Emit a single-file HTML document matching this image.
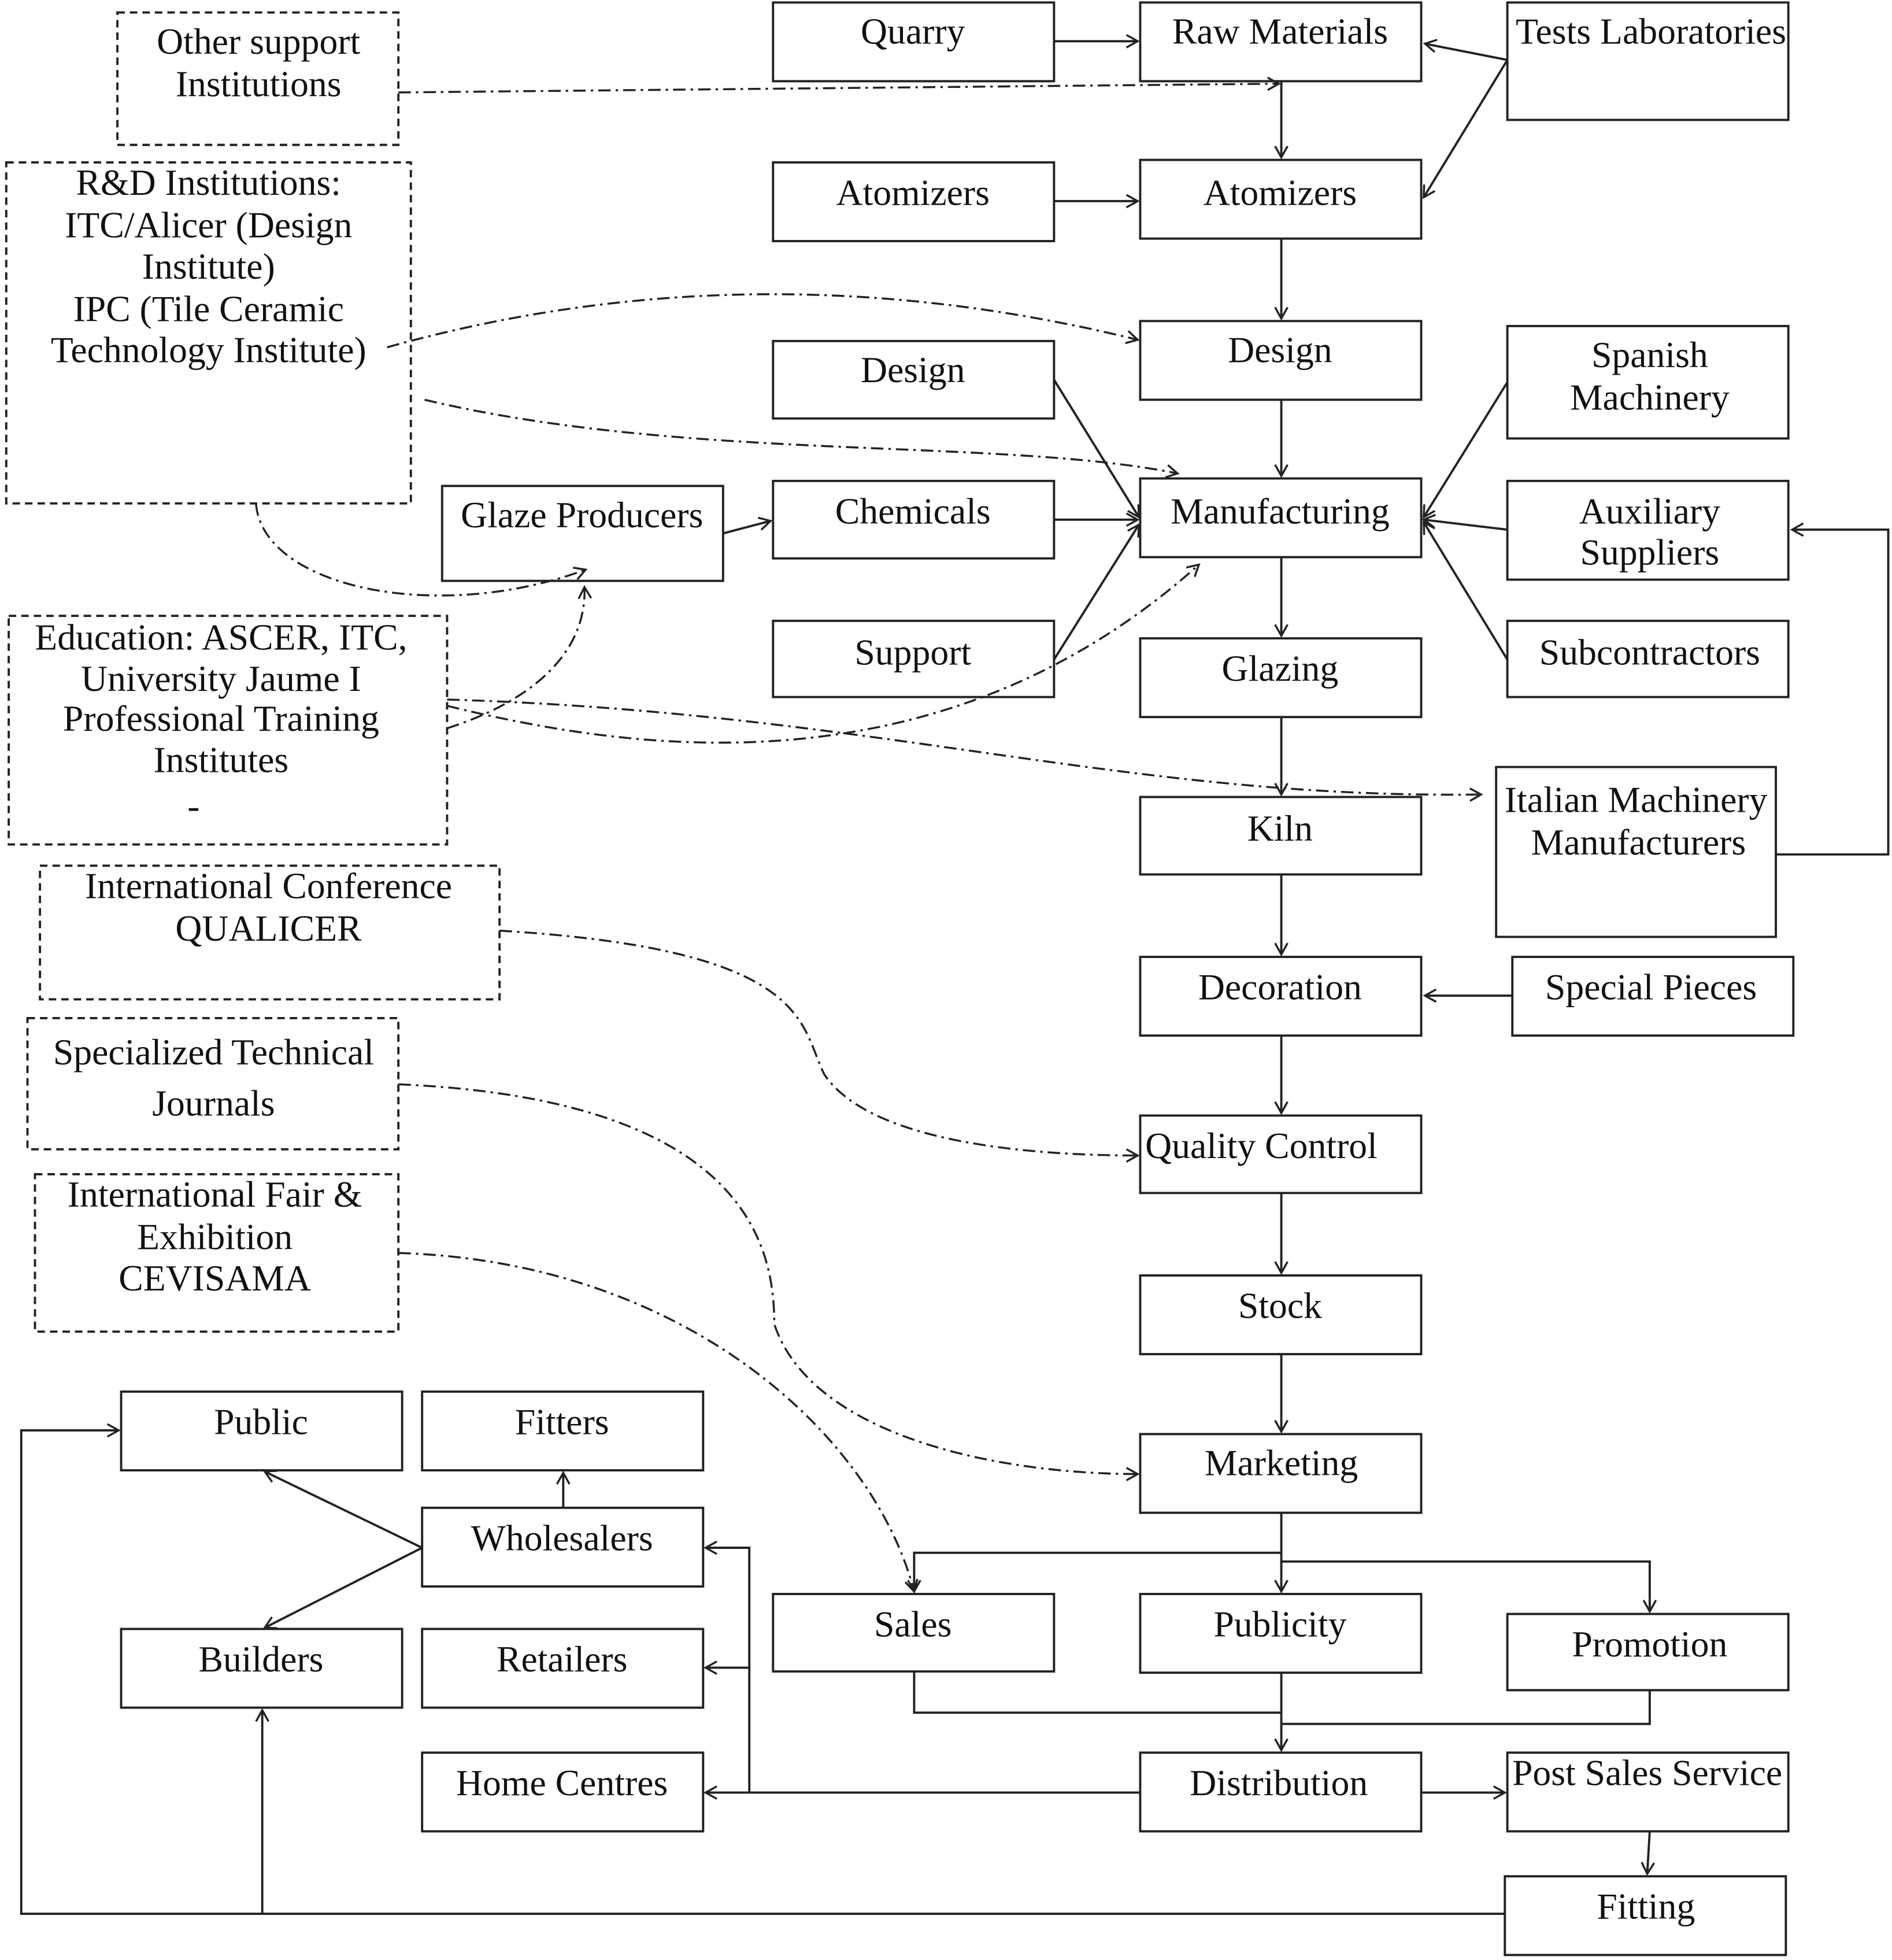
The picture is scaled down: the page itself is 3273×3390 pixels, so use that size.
<!DOCTYPE html>
<html><head><meta charset="utf-8"><style>
html,body{margin:0;padding:0;background:#fff;}
svg{display:block;}
text{font-family:"Liberation Serif",serif;font-size:29.5px;fill:#111;text-anchor:middle;}
</style></head><body>
<svg width="3273" height="3390" viewBox="0 0 1515 1569" preserveAspectRatio="none" xmlns="http://www.w3.org/2000/svg">
<defs>
<marker id="a" markerWidth="12" markerHeight="12" refX="10" refY="6" orient="auto" markerUnits="userSpaceOnUse">
<path d="M1,1 L10,6 L1,11" fill="none" stroke="#222" stroke-width="1.6"/>
</marker>
</defs>
<g fill="none" stroke="#222" stroke-width="1.8">
<rect x="619" y="2" width="225" height="63"/>
<rect x="913" y="2" width="225" height="63"/>
<rect x="1207" y="2" width="225" height="94"/>
<rect x="619" y="130" width="225" height="63"/>
<rect x="913" y="128" width="225" height="63"/>
<rect x="913" y="257" width="225" height="63"/>
<rect x="619" y="273" width="225" height="62"/>
<rect x="1207" y="261" width="225" height="90"/>
<rect x="354" y="389" width="225" height="76"/>
<rect x="619" y="385" width="225" height="62"/>
<rect x="913" y="383" width="225" height="63"/>
<rect x="1207" y="385" width="225" height="79"/>
<rect x="619" y="497" width="225" height="61"/>
<rect x="913" y="511" width="225" height="63"/>
<rect x="1207" y="497" width="225" height="61"/>
<rect x="1198" y="614" width="224" height="136"/>
<rect x="913" y="638" width="225" height="62"/>
<rect x="913" y="766" width="225" height="63"/>
<rect x="1211" y="766" width="225" height="63"/>
<rect x="913" y="893" width="225" height="62"/>
<rect x="913" y="1021" width="225" height="63"/>
<rect x="97" y="1114" width="225" height="63"/>
<rect x="338" y="1114" width="225" height="63"/>
<rect x="913" y="1148" width="225" height="63"/>
<rect x="338" y="1207" width="225" height="63"/>
<rect x="619" y="1276" width="225" height="62"/>
<rect x="913" y="1276" width="225" height="63"/>
<rect x="1207" y="1292" width="225" height="61"/>
<rect x="97" y="1304" width="225" height="63"/>
<rect x="338" y="1304" width="225" height="63"/>
<rect x="338" y="1403" width="225" height="63"/>
<rect x="913" y="1403" width="225" height="63"/>
<rect x="1207" y="1403" width="225" height="63"/>
<rect x="1205" y="1502" width="225" height="63"/>
</g>
<g fill="none" stroke="#222" stroke-width="1.8" stroke-dasharray="6 4">
<rect x="94" y="10" width="225" height="106"/>
<rect x="5" y="130" width="324" height="273"/>
<rect x="7" y="493" width="351" height="183"/>
<rect x="32" y="693" width="368" height="107"/>
<rect x="22" y="815" width="297" height="105"/>
<rect x="28" y="940" width="291" height="126"/>
</g>
<g fill="none" stroke="#222" stroke-width="1.8">
<line x1="844" y1="33" x2="911" y2="33" marker-end="url(#a)"/>
<line x1="1026" y1="65" x2="1026" y2="126" marker-end="url(#a)"/>
<line x1="1207" y1="48" x2="1141" y2="35" marker-end="url(#a)"/>
<line x1="1207" y1="48" x2="1140" y2="158" marker-end="url(#a)"/>
<line x1="844" y1="161" x2="911" y2="161" marker-end="url(#a)"/>
<line x1="1026" y1="191" x2="1026" y2="255" marker-end="url(#a)"/>
<line x1="1026" y1="320" x2="1026" y2="381" marker-end="url(#a)"/>
<line x1="844" y1="304" x2="912" y2="414" marker-end="url(#a)"/>
<line x1="844" y1="416" x2="911" y2="416" marker-end="url(#a)"/>
<line x1="844" y1="528" x2="912" y2="420" marker-end="url(#a)"/>
<line x1="1207" y1="306" x2="1140" y2="414" marker-end="url(#a)"/>
<line x1="1207" y1="424" x2="1140" y2="416" marker-end="url(#a)"/>
<line x1="1207" y1="528" x2="1140" y2="418" marker-end="url(#a)"/>
<line x1="579" y1="427" x2="617" y2="417" marker-end="url(#a)"/>
<line x1="1026" y1="446" x2="1026" y2="509" marker-end="url(#a)"/>
<line x1="1026" y1="574" x2="1026" y2="636" marker-end="url(#a)"/>
<line x1="1026" y1="700" x2="1026" y2="764" marker-end="url(#a)"/>
<line x1="1026" y1="829" x2="1026" y2="891" marker-end="url(#a)"/>
<line x1="1026" y1="955" x2="1026" y2="1019" marker-end="url(#a)"/>
<line x1="1026" y1="1084" x2="1026" y2="1146" marker-end="url(#a)"/>
<line x1="1211" y1="797" x2="1141" y2="797" marker-end="url(#a)"/>
<polyline points="1422,684 1512,684 1512,424 1435,424" marker-end="url(#a)"/>
<polyline points="1026,1243 732,1243 732,1274" marker-end="url(#a)"/>
<line x1="1026" y1="1211" x2="1026" y2="1274" marker-end="url(#a)"/>
<polyline points="1026,1250 1321,1250 1321,1290" marker-end="url(#a)"/>
<polyline points="732,1338 732,1371 1026,1371"/>
<line x1="1026" y1="1339" x2="1026" y2="1401" marker-end="url(#a)"/>
<polyline points="1321,1353 1321,1380 1026,1380"/>
<line x1="913" y1="1435" x2="565" y2="1435" marker-end="url(#a)"/>
<polyline points="600,1435 600,1239 565,1239" marker-end="url(#a)"/>
<line x1="600" y1="1335" x2="565" y2="1335" marker-end="url(#a)"/>
<line x1="1138" y1="1435" x2="1205" y2="1435" marker-end="url(#a)"/>
<line x1="1321" y1="1466" x2="1319" y2="1500" marker-end="url(#a)"/>
<polyline points="1205,1532 17,1532 17,1145 95,1145" marker-end="url(#a)"/>
<line x1="210" y1="1532" x2="210" y2="1369" marker-end="url(#a)"/>
<line x1="451" y1="1207" x2="451" y2="1179" marker-end="url(#a)"/>
<line x1="338" y1="1239" x2="212" y2="1178" marker-end="url(#a)"/>
<line x1="338" y1="1239" x2="212" y2="1303" marker-end="url(#a)"/>
</g>
<g fill="none" stroke="#222" stroke-width="1.6" stroke-dasharray="10 4 2 4">
<path d="M319,74 L1024,67" marker-end="url(#a)"/>
<path d="M310,278 C500,225 700,220 911,272" marker-end="url(#a)"/>
<path d="M340,320 C550,370 800,350 943,379" marker-end="url(#a)"/>
<path d="M205,403 C210,470 350,500 469,456" marker-end="url(#a)"/>
<path d="M358,583 C430,560 470,520 468,470" marker-end="url(#a)"/>
<path d="M358,565 C500,600 750,640 960,452" marker-end="url(#a)"/>
<path d="M358,560 C700,570 900,640 1186,636" marker-end="url(#a)"/>
<path d="M400,745 C650,760 640,820 660,860 C700,920 850,925 911,925" marker-end="url(#a)"/>
<path d="M319,868 C600,880 620,1000 620,1060 C650,1150 800,1180 911,1180" marker-end="url(#a)"/>
<path d="M319,1003 C550,1010 700,1150 732,1274" marker-end="url(#a)"/>
</g>
<g>
<text x="731" y="35">Quarry</text>
<text x="1025" y="35">Raw Materials</text>
<text x="1322" y="35">Tests Laboratories</text>
<text x="207" y="43">Other support</text>
<text x="207" y="77">Institutions</text>
<text x="167" y="156">R&amp;D Institutions:</text>
<text x="167" y="190">ITC/Alicer (Design</text>
<text x="167" y="223">Institute)</text>
<text x="167" y="257">IPC (Tile Ceramic</text>
<text x="167" y="290">Technology Institute)</text>
<text x="731" y="164">Atomizers</text>
<text x="1025" y="164">Atomizers</text>
<text x="1025" y="290">Design</text>
<text x="731" y="306">Design</text>
<text x="1321" y="294">Spanish</text>
<text x="1321" y="328">Machinery</text>
<text x="466" y="422">Glaze Producers</text>
<text x="731" y="419">Chemicals</text>
<text x="1025" y="419">Manufacturing</text>
<text x="1321" y="419">Auxiliary</text>
<text x="1321" y="452">Suppliers</text>
<text x="177" y="520">Education: ASCER, ITC,</text>
<text x="177" y="553">University Jaume I</text>
<text x="177" y="585">Professional Training</text>
<text x="177" y="618">Institutes</text>
<text x="155" y="655">-</text>
<text x="731" y="532">Support</text>
<text x="1025" y="545">Glazing</text>
<text x="1310" y="650">Italian Machinery</text>
<text x="1312" y="684">Manufacturers</text>
<text x="1321" y="532">Subcontractors</text>
<text x="1025" y="673">Kiln</text>
<text x="215" y="719">International Conference</text>
<text x="215" y="753">QUALICER</text>
<text x="1025" y="800">Decoration</text>
<text x="1322" y="800">Special Pieces</text>
<text x="171" y="852">Specialized Technical</text>
<text x="171" y="893">Journals</text>
<text x="1010" y="927">Quality Control</text>
<text x="172" y="966">International Fair &amp;</text>
<text x="172" y="1000">Exhibition</text>
<text x="172" y="1033">CEVISAMA</text>
<text x="1025" y="1055">Stock</text>
<text x="209" y="1148">Public</text>
<text x="450" y="1148">Fitters</text>
<text x="1026" y="1181">Marketing</text>
<text x="450" y="1241">Wholesalers</text>
<text x="731" y="1310">Sales</text>
<text x="1025" y="1310">Publicity</text>
<text x="1321" y="1326">Promotion</text>
<text x="209" y="1338">Builders</text>
<text x="450" y="1338">Retailers</text>
<text x="450" y="1437">Home Centres</text>
<text x="1024" y="1437">Distribution</text>
<text x="1319" y="1429">Post Sales Service</text>
<text x="1318" y="1536">Fitting</text>
</g>
</svg>
</body></html>
